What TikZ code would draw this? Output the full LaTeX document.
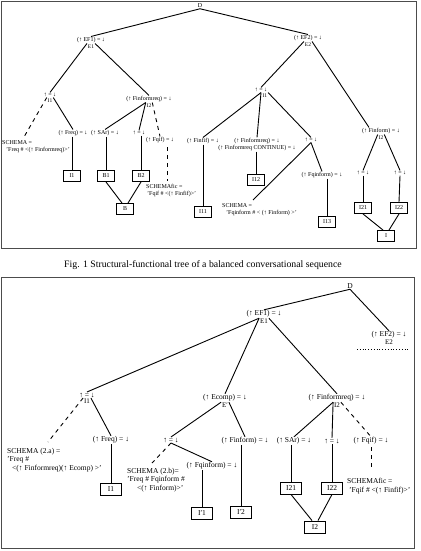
\documentclass[tikz,border=0pt]{standalone}
\usepackage{fontspec}
\setmainfont{Liberation Serif}
\begin{document}
\begin{tikzpicture}[x=1pt,y=-1pt,
  ts/.style={font=\fontsize{6}{7}\selectfont, inner sep=0.6pt},
  bs/.style={font=\fontsize{7.5}{8.5}\selectfont, inner sep=0.6pt},
  subt/.style={font=\fontsize{5.5}{6}\selectfont, inner sep=0.8pt, anchor=north},
  subb/.style={font=\fontsize{7}{8}\selectfont, inner sep=0.8pt, anchor=north},
  schT/.style={font=\fontsize{6}{7}\selectfont, inner sep=0pt, anchor=north west, align=left},
  schB/.style={font=\fontsize{7.5}{8.5}\selectfont, inner sep=0pt, anchor=north west, align=left},
  ln/.style={line width=0.9pt},
  dl/.style={line width=0.9pt, dash pattern=on 4pt off 4pt},
  bx/.style={draw, line width=0.9pt, minimum width=17pt, minimum height=11pt, inner sep=0pt, font=\fontsize{6}{7}\selectfont},
  bxb/.style={draw, line width=0.9pt, minimum width=21pt, minimum height=12pt, inner sep=0pt, font=\fontsize{7.5}{8.5}\selectfont},
  frm/.style={draw=black!70, line width=0.9pt}]
\useasboundingbox (0,0) rectangle (420,551);
% frames
\draw[frm] (1,1) rectangle (416,248);
\draw[frm] (1,277) rectangle (414,548);
\node[font=\fontsize{9.8}{11}\selectfont, inner sep=0] (cap) at (203,265) {Fig. 1 Structural-functional tree of a balanced conversational sequence};

% ---------------- top tree ----------------
\node[ts] (d1) at (200,6) {D};
\node[ts] (ef1) at (91,40) {(↑ EF1) = ↓};
\node[subt] (e1) at (ef1.south) {E1};
\node[ts] (t1) at (50,95) {↑ = ↓};
\node[subt] (i1a) at (t1.south) {I1};
\node[ts] (fr1) at (73,133) {(↑ Freq) = ↓};
\node[bx] (bi1) at (72,176) {I1};
\node[schT] (sc1) at (2,140) {SCHEMA =\\\hspace*{4pt}'Freq \# <(↑ Finformreq)>'};
\coordinate (sc1t) at (24,137);
\node[ts] (fir1) at (149,99) {(↑ Finformreq) = ↓};
\node[subt] (i2a) at (fir1.south) {I2};
\node[ts] (sa1) at (105,133) {(↑ SAr) = ↓};
\node[ts] (t2) at (139,133) {↑ = ↓};
\node[ts] (fq1) at (160,140) {(↑ Fqif) = ↓};
\coordinate (fq1b) at (167,147);
\coordinate (fq1e) at (167,181);
\node[schT] (sc2) at (146,184) {SCHEMAfic =\\\hspace*{1pt}'Fqif \# <(↑ Finfif)>'};
\node[bx] (b1) at (106,176) {B1};
\node[bx] (b2) at (141,176) {B2};
\node[bx] (b) at (125,209) {B};

\node[ts] (ef2) at (308,38) {(↑ EF2) = ↓};
\node[subt] (e2) at (ef2.south) {E2};
\node[ts] (t3) at (261,90) {↑ = ↓};
\node[subt, anchor=north west] (i1b) at ([xshift=0.5pt]t3.south) {I1};
\node[ts] (ff) at (203,141) {(↑ Finfif) = ↓};
\node[ts, align=center] (fir2) at (257,144.5) {(↑ Finformreq) = ↓\\(↑ Finformreq CONTINUE) = ↓};
\node[ts] (t4) at (311,140) {↑ = ↓};
\node[ts] (fqi) at (322,175) {(↑ Fqinform) = ↓};
\node[schT] (sc3) at (222,203) {SCHEMA =\\\hspace*{4pt}'Fqinform \# < (↑ Finform) >'};
\coordinate (sc3t) at (253,200);
\node[bx] (i11) at (203,212) {I11};
\node[bx] (i12) at (256,180) {I12};
\node[bx] (i13) at (327,222) {I13};
\node[ts] (fi) at (381,131) {(↑ Finform) = ↓};
\node[subt] (i2b) at (fi.south) {I2};
\node[ts] (t5) at (363,173) {↑ = ↓};
\node[ts] (t6) at (400,173) {↑ = ↓};
\node[bx] (i21) at (363,208) {I21};
\node[bx] (i22) at (399,208) {I22};
\node[bx] (ii) at (386,236) {I};

\draw[ln] (d1.south) -- (ef1.north);
\draw[ln] (d1.south) -- (ef2.north);
\draw[ln] (e1.north west) -- (t1.north);
\draw[ln] (e1.north east) -- (fir1.north);
\draw[dl] (i1a.north west) -- (sc1t);
\draw[ln] (i1a.north east) -- (fr1.north);
\draw[ln] (bi1.north |- fr1.south) -- (bi1.north);
\draw[ln] (i2a.north west) -- (sa1.north);
\draw[ln] (i2a.north west) -- (t2.north);
\draw[dl] (i2a.north east) -- (fq1.north);
\draw[dl] (fq1b) -- (fq1e);
\draw[ln] (b1.north |- sa1.south) -- (b1.north);
\draw[ln] (b2.north |- t2.south) -- (b2.north);
\draw[ln] (b1.south) -- ([xshift=-3pt]b.north);
\draw[ln] (b2.south) -- ([xshift=3pt]b.north);

\draw[ln] (e2.north west) -- (t3.north);
\draw[ln] (e2.north east) -- ([xshift=-12pt]fi.north);
\draw[ln] (t3.south) -- (ff.north);
\draw[ln] (t3.south) -- (fir2.north);
\draw[ln] (i1b.north east) -- (t4.north);
\draw[ln] (i11.north |- ff.south) -- (i11.north);
\draw[ln] (i12.north |- fir2.south) -- (i12.north);
\draw[ln] (t4.south) -- (sc3t);
\draw[ln] (t4.south) -- (fqi.north);
\draw[ln] (i13.north |- fqi.south) -- (i13.north);
\draw[ln] (i2b.north west) -- (t5.north);
\draw[ln] (i2b.north east) -- (t6.north);
\draw[ln] (t5.south) -- (i21.north);
\draw[ln] (t6.south) -- (i22.north);
\draw[ln] (i21.south) -- ([xshift=-3pt]ii.north);
\draw[ln] (i22.south) -- ([xshift=3pt]ii.north);

% ---------------- bottom tree ----------------
\node[bs] (d2) at (350,286) {D};
\node[bs] (ef1b) at (264,314) {(↑ EF1) = ↓};
\node[subb] (e1b) at (ef1b.south) {E1};
\node[bs] (ef2b) at (389,335) {(↑ EF2) = ↓};
\node[subb] (e2b) at (ef2b.south) {E2};
\coordinate (dot1) at (357,349);
\coordinate (dot2) at (408,349);
\node[bs] (t7) at (87,395) {↑ = ↓};
\node[subb] (i1c) at (t7.south) {I1};
\node[bs] (ec) at (225,398) {(↑ Ecomp) = ↓};
\node[subb] (ep) at (ec.south) {E′};
\node[bs] (fir3) at (337,398) {(↑ Finformreq) = ↓};
\node[subb] (i2c) at (fir3.south) {I2};
\node[bs] (fr2) at (111,440) {(↑ Freq) = ↓};
\node[bxb] (bi1c) at (111,489) {I1};
\node[schB] (sc4) at (7,448) {SCHEMA (2.a) =\\'Freq \#\\\hspace*{5pt}<(↑ Finformreq)(↑ Ecomp) >'};
\coordinate (sc4t) at (48,442);
\node[bs] (t8) at (171,440) {↑ = ↓};
\node[bs] (fib) at (245,441) {(↑ Finform) = ↓};
\node[bs] (fqib) at (212,466) {(↑ Fqinform) = ↓};
\node[bxb] (ip1) at (202,513) {I′1};
\node[bxb] (ip2) at (241,512) {I′2};
\node[schB] (sc5) at (127,468) {SCHEMA (2.b)=\\'Freq \# Fqinform \#\\\hspace*{10pt}<(↑ Finform)>'};
\coordinate (sc5t) at (152,463);
\node[bs] (sarb) at (294,441) {(↑ SAr) = ↓};
\node[bs] (t9) at (332,441) {↑ = ↓};
\node[bs] (fqb) at (371,441) {(↑ Fqif) = ↓};
\coordinate (fqbb) at (371,447);
\coordinate (fqbe) at (371,468);
\node[bxb] (i21b) at (291,488) {I21};
\node[bxb] (i22b) at (332,488) {I22};
\node[bxb] (i2d) at (315,527) {I2};
\node[schB, font=\fontsize{7.5}{9.5}\selectfont] (sc6) at (347,478) {SCHEMAfic =\\\hspace*{2pt}'Fqif \# <(↑ Finfif)>'};

\draw[ln] (d2.south) -- (ef1b.north);
\draw[ln] (d2.south) -- (ef2b.north);
\draw[line width=0.8pt, dotted] (dot1) -- (dot2);
\draw[ln] (e1b.north west) -- (t7.north);
\draw[ln] (e1b.north west) -- (ec.north);
\draw[ln] (e1b.north east) -- (fir3.north);
\draw[dl] (i1c.north west) -- (sc4t);
\draw[ln] (i1c.north east) -- (fr2.north);
\draw[ln] (bi1c.north |- fr2.south) -- (bi1c.north);
\draw[ln] (ep.north west) -- (t8.north);
\draw[ln] (ep.north east) -- (fib.north);
\draw[dl] (t8.south) -- (sc5t);
\draw[ln] (t8.south) -- (fqib.north);
\draw[ln] (ip1.north |- fqib.south) -- (ip1.north);
\draw[ln] (ip2.north |- fib.south) -- (ip2.north);
\draw[ln] (i2c.north west) -- (sarb.north);
\draw[ln] (i2c.north west) -- (t9.north);
\draw[dl] (i2c.north east) -- (fqb.north);
\draw[dl] (fqbb) -- (fqbe);
\draw[ln] (i21b.north |- sarb.south) -- (i21b.north);
\draw[ln] (i22b.north |- t9.south) -- (i22b.north);
\draw[ln] (i21b.south) -- ([xshift=-3pt]i2d.north);
\draw[ln] (i22b.south) -- ([xshift=3pt]i2d.north);
\end{tikzpicture}
\end{document}
